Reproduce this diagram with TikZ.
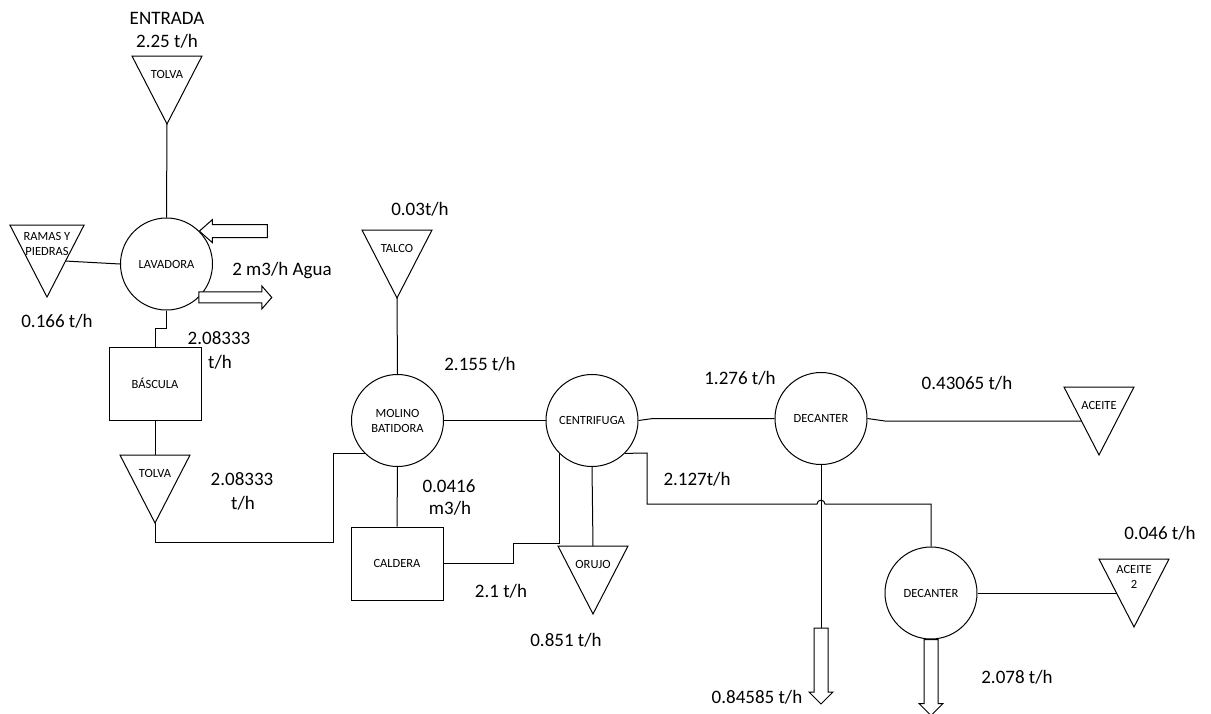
\documentclass[tikz,border=0pt]{standalone}
\usepackage{fontspec}
\setmainfont{Carlito}
\begin{document}
\begin{tikzpicture}[x=1pt,y=-1pt,
  line/.style={line width=1pt},
  unit/.style={draw, line width=1pt, circle, minimum size=92pt, inner sep=0pt, align=center, font=\fontsize{12.5}{15}\selectfont},
  box/.style={draw, line width=1pt, rectangle, inner sep=0pt, minimum width=92pt, minimum height=73pt, font=\fontsize{12.5}{15}\selectfont},
  flow/.style={font=\fontsize{19}{23}\selectfont, anchor=base, inner sep=0pt},
  tag/.style={font=\fontsize{12.5}{15}\selectfont, inner sep=0pt, align=center},
  tri/.pic={
    \draw[line width=1pt, line join=miter] (-35,0) -- (35,0) -- (0,68) -- cycle;
    \coordinate (-apex) at (0,68);
    \coordinate (-top) at (0,0);
    \coordinate (-in) at (-17.5,34);
    \coordinate (-out) at (17.5,34);
    \node[tag] (-t) at (0,18) {#1};
  },
  downarrow/.pic={
    \draw[line width=1pt, fill=white] (-7,0) -- (7,0) -- (7,64) -- (12,64) -- (0,76) -- (-12,64) -- (-7,64) -- cycle;
  }
]
\useasboundingbox (0,0) rectangle (1211,713);

% units
\node[unit] (lav) at (166.5,264) {LAVADORA};
\node[unit] (mol) at (397.5,420.5) {MOLINO\\BATIDORA};
\node[unit] (cen) at (592,420.5) {CENTRIFUGA};
\node[unit] (dec1) at (821,418.5) {DECANTER};
\node[unit] (dec2) at (931,593) {DECANTER};
\node[box] (bas) at (155,383.5) {BÁSCULA};
\node[box] (cal) at (397,563.5) {CALDERA};

% hoppers
\pic (tolva1) at (167,56) {tri=TOLVA};
\pic[scale=1.06] (ramas) at (47,225) {tri={RAMAS Y\\PIEDRAS}};
\pic (tolva2) at (155,455) {tri=TOLVA};
\pic (talco) at (397,230) {tri=TALCO};
\pic (orujo) at (593,546) {tri=ORUJO};
\pic (aceite) at (1099,387) {tri=ACEITE};
\pic (aceite2) at (1134,559) {tri={ACEITE\\2}};

% connectors
\draw[line] (tolva1-apex) -- (lav.north);
\draw[line] (ramas-out) -- (lav.west);
\draw[line] (lav.south) -- ++(0,18) -| (bas.north);
\draw[line] (bas.south) -- (tolva2-top);
\draw[line] (tolva2-apex) |- (333,542) |- (mol.225);
\draw[line] (talco-apex) -- (mol.north);
\draw[line] (mol.south) -- (cal.north);
\draw[line] (mol.east) -- (cen.west);
\draw[line] (cal.east) -| (513,543) -| (cen.225);
\draw[line] (cen.south) -- (orujo-top);
\draw[line] (cen.east) -- (653,418.5) -- (dec1.west);
\draw[line] (cen.-45) -- (647,453) -- (647,504) -- (817,504)
   .. controls (817,499) and (825,499) .. (825,504) -- (931,504) -- (dec2.north);
\draw[line] (dec1.east) -- (885,421) -- (aceite-in);
\draw[line] (dec2.east) -- (aceite2-in);
\coordinate (d1end) at (821,628);
\draw[line] (dec1.south) -- (d1end);
\pic at (d1end) {downarrow};
\pic at (dec2.south) {downarrow};

% water arrows
\draw[line width=1pt, fill=white] (lav.45) -- ++(13,-11.5) -- ++(0,5) -- ++(55,0) -- ++(0,13) -- ++(-55,0) -- ++(0,5) -- cycle;
\coordinate (aout) at (lav.-46);
\draw[line width=1pt, fill=white] (aout) ++(0,-5.5) -- ++(63,0) -- ++(0,-6) -- ++(10,11.5) -- ++(-10,11.5) -- ++(0,-6) -- ++(-63,0) -- cycle;

% flow labels
\node[flow] (l1) at (167,24) {ENTRADA};
\node[flow] (l2) at (167,47) {2.25 t/h};
\node[flow] (l3) at (282,275) {2 m3/h Agua};
\node[flow] (l4) at (57,327) {0.166 t/h};
\node[flow] (l5) at (219,344) {2.08333};
\node[flow] (l6) at (220,368) {t/h};
\node[flow] (l7) at (242,485) {2.08333};
\node[flow] (l8) at (243,509) {t/h};
\node[flow] (l9) at (420,215) {0.03t/h};
\node[flow] (l10) at (480,370) {2.155 t/h};
\node[flow] (l11) at (449,492) {0.0416};
\node[flow] (l12) at (450,514) {m3/h};
\node[flow] (l13) at (501,597) {2.1 t/h};
\node[flow] (l14) at (566,646) {0.851 t/h};
\node[flow] (l15) at (740,384) {1.276 t/h};
\node[flow] (l16) at (697,485) {2.127t/h};
\node[flow] (l17) at (967,389) {0.43065 t/h};
\node[flow] (l18) at (1160,539) {0.046 t/h};
\node[flow] (l19) at (1017,683) {2.078 t/h};
\node[flow] (l20) at (757,703) {0.84585 t/h};
\end{tikzpicture}
\end{document}
